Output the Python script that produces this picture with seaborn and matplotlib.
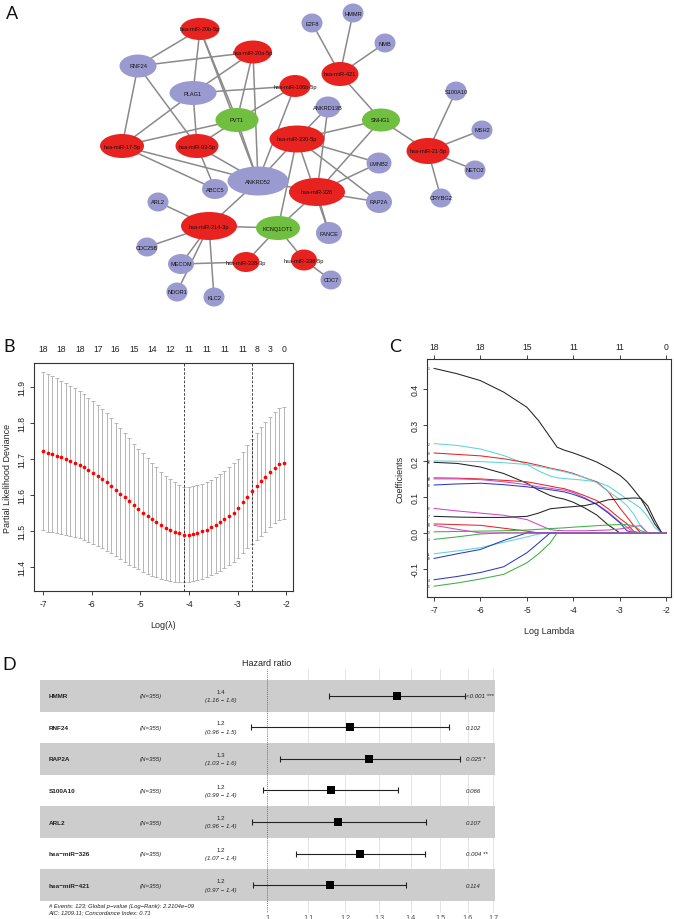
import matplotlib
matplotlib.use("Agg")
import matplotlib.pyplot as plt
import matplotlib.transforms as mtransforms
from matplotlib.collections import LineCollection
from matplotlib.patches import Ellipse
from matplotlib.ticker import NullLocator
import pandas as pd
import seaborn as sns

# ---------------- A: ceRNA network ----------------
mirna_nodes = ["hsa-miR-20b-5p", "hsa-miR-20a-5p", "hsa-miR-106b-5p", "hsa-miR-421",
               "hsa-miR-17-5p", "hsa-miR-93-5p", "hsa-miR-330-5p", "hsa-miR-326",
               "hsa-miR-214-3p", "hsa-miR-338-3p", "hsa-miR-338-5p", "hsa-miR-21-5p"]
lnc_nodes = ["PVT1", "SNHG1", "KCNQ1OT1"]
mrna_nodes = ["RNF24", "PLAG1", "ANKRD52", "E2F8", "HMMR", "NMB", "ANKRD13B", "ABCC5",
              "LMNB2", "RAP2A", "FANCE", "ARL2", "CDC25B", "MECOM", "NDOR1", "KLC2",
              "CDC7", "S100A10", "MSH2", "NETO2", "CRYBG2"]
edges = [
    ("hsa-miR-20b-5p", "RNF24"), ("hsa-miR-20b-5p", "PLAG1"), ("hsa-miR-20b-5p", "PVT1"),
    ("hsa-miR-20b-5p", "ANKRD52"),
    ("hsa-miR-20a-5p", "RNF24"), ("hsa-miR-20a-5p", "PLAG1"), ("hsa-miR-20a-5p", "PVT1"),
    ("hsa-miR-20a-5p", "ANKRD52"),
    ("hsa-miR-106b-5p", "PLAG1"), ("hsa-miR-106b-5p", "PVT1"), ("hsa-miR-106b-5p", "ANKRD52"),
    ("hsa-miR-17-5p", "RNF24"), ("hsa-miR-17-5p", "PLAG1"), ("hsa-miR-17-5p", "PVT1"),
    ("hsa-miR-17-5p", "ANKRD52"), ("hsa-miR-17-5p", "ABCC5"),
    ("hsa-miR-93-5p", "RNF24"), ("hsa-miR-93-5p", "PLAG1"), ("hsa-miR-93-5p", "PVT1"),
    ("hsa-miR-93-5p", "ANKRD52"), ("hsa-miR-93-5p", "ABCC5"),
    ("PVT1", "ANKRD52"),
    ("hsa-miR-421", "E2F8"), ("hsa-miR-421", "HMMR"), ("hsa-miR-421", "NMB"),
    ("hsa-miR-421", "SNHG1"),
    ("hsa-miR-330-5p", "ANKRD52"), ("hsa-miR-330-5p", "SNHG1"), ("hsa-miR-330-5p", "ANKRD13B"),
    ("hsa-miR-330-5p", "LMNB2"), ("hsa-miR-330-5p", "RAP2A"), ("hsa-miR-330-5p", "FANCE"),
    ("hsa-miR-330-5p", "KCNQ1OT1"),
    ("hsa-miR-326", "ANKRD52"), ("hsa-miR-326", "LMNB2"), ("hsa-miR-326", "RAP2A"),
    ("hsa-miR-326", "FANCE"), ("hsa-miR-326", "KCNQ1OT1"), ("hsa-miR-326", "SNHG1"),
    ("hsa-miR-326", "ANKRD13B"),
    ("hsa-miR-21-5p", "SNHG1"), ("hsa-miR-21-5p", "S100A10"), ("hsa-miR-21-5p", "MSH2"),
    ("hsa-miR-21-5p", "NETO2"), ("hsa-miR-21-5p", "CRYBG2"),
    ("hsa-miR-214-3p", "ANKRD52"), ("hsa-miR-214-3p", "ARL2"), ("hsa-miR-214-3p", "CDC25B"),
    ("hsa-miR-214-3p", "MECOM"), ("hsa-miR-214-3p", "NDOR1"), ("hsa-miR-214-3p", "KLC2"),
    ("hsa-miR-214-3p", "KCNQ1OT1"),
    ("hsa-miR-338-3p", "MECOM"), ("hsa-miR-338-3p", "KCNQ1OT1"),
    ("hsa-miR-338-5p", "KCNQ1OT1"), ("hsa-miR-338-5p", "CDC7"),
]

# ---------------- B: cross-validation curve ----------------
log_lambda = [-7.00, -6.91, -6.81, -6.72, -6.63, -6.53, -6.44, -6.35, -6.25, -6.16,
              -6.07, -5.97, -5.88, -5.79, -5.69, -5.60, -5.51, -5.41, -5.32, -5.23,
              -5.13, -5.04, -4.95, -4.85, -4.76, -4.67, -4.57, -4.48, -4.39, -4.29,
              -4.20, -4.11, -4.01, -3.92, -3.83, -3.73, -3.64, -3.55, -3.45, -3.36,
              -3.27, -3.17, -3.08, -2.99, -2.89, -2.80, -2.71, -2.61, -2.52, -2.43,
              -2.33, -2.24, -2.15, -2.05]
cv_mean = [11.722, 11.717, 11.713, 11.709, 11.705, 11.700, 11.695, 11.690, 11.684, 11.677,
           11.670, 11.662, 11.654, 11.645, 11.636, 11.626, 11.615, 11.604, 11.593, 11.582,
           11.571, 11.561, 11.551, 11.541, 11.532, 11.524, 11.516, 11.509, 11.503, 11.497,
           11.493, 11.490, 11.490, 11.492, 11.495, 11.499, 11.504, 11.510, 11.517, 11.524,
           11.532, 11.541, 11.551, 11.563, 11.580, 11.595, 11.610, 11.624, 11.638, 11.651,
           11.664, 11.676, 11.686, 11.690]
cv_sd = [0.220, 0.219, 0.217, 0.215, 0.213, 0.211, 0.209, 0.207, 0.205, 0.203,
         0.200, 0.198, 0.196, 0.193, 0.191, 0.188, 0.185, 0.182, 0.179, 0.176,
         0.172, 0.168, 0.165, 0.161, 0.157, 0.153, 0.149, 0.145, 0.141, 0.138,
         0.135, 0.133, 0.132, 0.132, 0.132, 0.132, 0.133, 0.133, 0.134, 0.134,
         0.135, 0.136, 0.137, 0.138, 0.140, 0.143, 0.146, 0.149, 0.151, 0.153,
         0.154, 0.155, 0.156, 0.156]
lambda_min = -4.11
lambda_1se = -2.71
nz_lambda = [-7.00, -6.63, -6.25, -5.88, -5.51, -5.13, -4.76, -4.39, -4.01, -3.64,
             -3.27, -2.89, -2.61, -2.33, -2.05]
nz_count = [18, 18, 18, 17, 16, 15, 14, 12, 11, 11, 11, 11, 8, 3, 0]

# ---------------- C: coefficient paths ----------------
path_lambda = [-7.0, -6.5, -6.0, -5.5, -5.0, -4.75, -4.5, -4.35, -4.2, -4.0, -3.75,
               -3.5, -3.25, -3.0, -2.85, -2.7, -2.55, -2.4, -2.25, -2.1, -2.0]
coef_1 = [.457, .442, .423, .391, .349, .312, .266, .238, .230, .222, .210, .197, .180, .160,
          .143, .120, .095, .062, .025, 0, 0]
coef_2 = [.248, .243, .233, .215, .190, .172, .158, .153, .151, .149, .146, .142, .130, .108,
          .094, .082, .068, .045, .015, 0, 0]
coef_8 = [.222, .218, .214, .206, .195, .188, .180, .176, .172, .165, .153, .142, .115, .069,
          .045, .020, 0, 0, 0, 0, 0]
coef_12 = [.200, .199, .198, .195, .190, .185, .178, .174, .170, .163, .153, .140, .115, .093,
           .076, .052, .018, 0, 0, 0, 0]
coef_15 = [.196, .193, .183, .165, .138, .119, .104, .098, .094, .085, .069, .050, .022, 0,
           0, 0, 0, 0, 0, 0, 0]
coef_14 = [.153, .152, .150, .146, .142, .136, .130, .126, .123, .115, .103, .090, .067, .040,
           .026, .004, 0, 0, 0, 0, 0]
coef_16 = [.150, .150, .148, .142, .134, .128, .124, .121, .119, .112, .097, .080, .058, .030,
           .016, 0, 0, 0, 0, 0, 0]
coef_10 = [.133, .136, .138, .134, .128, .124, .120, .117, .114, .107, .095, .079, .055, .028,
           .006, 0, 0, 0, 0, 0, 0]
coef_6 = [.068, .061, .055, .049, .037, .023, .009, .007, .006, .006, .006, .007, .008, .011,
          .014, .018, .020, 0, 0, 0, 0]
coef_7 = [.046, .044, .043, .043, .046, .055, .067, .069, .071, .073, .076, .083, .092, .094,
          .096, .097, .096, .075, .035, 0, 0]
coef_17 = [.025, .023, .021, .013, .005, 0, 0, 0, 0, 0, 0, 0, 0, 0, 0, 0, 0, 0, 0, 0, 0]
coef_13 = [.003, .004, .005, .006, .008, .010, .012, .013, .014, .016, .018, .020, .022, .023,
           .023, .020, .006, 0, 0, 0, 0]
coef_3 = [-.018, -.011, -.003, 0, 0, 0, 0, 0, 0, 0, 0, 0, 0, 0, 0, 0, 0, 0, 0, 0, 0]
coef_11 = [-.058, -.050, -.041, -.026, -.011, -.003, 0, 0, 0, 0, 0, 0, 0, 0, 0, 0, 0, 0, 0, 0, 0]
coef_18 = [-.071, -.058, -.046, -.021, 0, 0, 0, 0, 0, 0, 0, 0, 0, 0, 0, 0, 0, 0, 0, 0, 0]
coef_4 = [-.130, -.121, -.110, -.094, -.055, -.028, 0, 0, 0, 0, 0, 0, 0, 0, 0, 0, 0, 0, 0, 0, 0]
coef_5 = [-.148, -.139, -.128, -.115, -.083, -.058, -.028, 0, 0, 0, 0, 0, 0, 0, 0, 0, 0, 0, 0, 0, 0]
coef_9 = [.021, .010, 0, 0, 0, 0, 0, 0, 0, 0, 0, 0, 0, 0, 0, 0, 0, 0, 0, 0, 0]
top_lambda = [-7, -6, -5, -4, -3, -2]
top_count = [18, 18, 15, 11, 11, 0]

# ---------------- D: multivariate Cox forest ----------------
genes = ["HMMR", "RNF24", "RAP2A", "S100A10", "ARL2", "hsa\u2212miR\u2212326", "hsa\u2212miR\u2212421"]
n_obs = [355, 355, 355, 355, 355, 355, 355]
hr = [1.354, 1.213, 1.27, 1.16, 1.18, 1.244, 1.157]
hr_low = [1.155, 0.963, 1.03, 0.989, 0.964, 1.07, 0.966]
hr_high = [1.59, 1.53, 1.57, 1.36, 1.45, 1.447, 1.386]
hr_text = ["1.4", "1.2", "1.3", "1.2", "1.2", "1.2", "1.2"]
ci_text = ["(1.16 \u2212 1.6)", "(0.96 \u2212 1.5)", "(1.03 \u2212 1.6)", "(0.99 \u2212 1.4)",
           "(0.96 \u2212 1.4)", "(1.07 \u2212 1.4)", "(0.97 \u2212 1.4)"]
p_text = ["<0.001 ***", "0.102", "0.025 *", "0.066", "0.107", "0.004 **", "0.114"]
hr_ticks = [1, 1.1, 1.2, 1.3, 1.4, 1.5, 1.6, 1.7]
footnote = ["# Events: 123; Global p\u2212value (Log\u2212Rank): 2.2104e\u221209",
            "AIC: 1209.11; Concordance Index: 0.71"]

# ---------------- layout (pixels) ----------------
node_layout = {
    "hsa-miR-20b-5p": (200, 30, 39, 22), "hsa-miR-20a-5p": (253, 53, 38, 23),
    "hsa-miR-106b-5p": (295, 87, 31, 22), "hsa-miR-421": (340, 75, 37, 24),
    "hsa-miR-17-5p": (122, 147, 44, 24), "hsa-miR-93-5p": (197, 147, 43, 24),
    "hsa-miR-330-5p": (297, 140, 55, 27), "hsa-miR-326": (317, 193, 56, 28),
    "hsa-miR-214-3p": (209, 227, 56, 28), "hsa-miR-338-3p": (246, 263, 27, 20),
    "hsa-miR-338-5p": (304, 261, 26, 21), "hsa-miR-21-5p": (428, 152, 43, 26),
    "PVT1": (237, 121, 43, 24), "SNHG1": (381, 121, 38, 23), "KCNQ1OT1": (278, 229, 44, 24),
    "RNF24": (138, 67, 37, 23), "PLAG1": (193, 94, 47, 24), "ANKRD52": (258, 182, 61, 29),
    "E2F8": (312, 24, 21, 19), "HMMR": (353, 14, 21, 19), "NMB": (385, 44, 21, 19),
    "ANKRD13B": (328, 108, 25, 21), "ABCC5": (215, 190, 26, 20), "LMNB2": (379, 164, 25, 21),
    "RAP2A": (379, 203, 26, 22), "FANCE": (329, 234, 26, 22), "ARL2": (158, 203, 21, 19),
    "CDC25B": (147, 248, 21, 19), "MECOM": (181, 265, 26, 20), "NDOR1": (177, 293, 21, 19),
    "KLC2": (214, 298, 21, 19), "CDC7": (331, 281, 21, 19), "S100A10": (456, 92, 21, 19),
    "MSH2": (482, 131, 21, 19), "NETO2": (475, 171, 21, 19), "CRYBG2": (441, 199, 21, 19),
}
W, H = 674, 920

sns.set_style("white")
plt.rcParams["font.family"] = ["Liberation Sans", "DejaVu Sans"]
plt.rcParams["axes.unicode_minus"] = False

fig = plt.figure(figsize=(W / 100, H / 100), dpi=100)


def box(left, top, right, bottom):
    return fig.add_axes([left / W, 1 - bottom / H, (right - left) / W, (bottom - top) / H])


def r_style(ax):
    for s in ax.spines.values():
        s.set_visible(True)
        s.set_color("#333333")
        s.set_linewidth(0.8)
    ax.tick_params(axis="both", direction="out", length=3, width=0.6, pad=2.5,
                   labelsize=6.2, colors="#222222", bottom=True, left=True)
    ax.tick_params(axis="y", labelrotation=90)
    for lab in ax.get_yticklabels():
        lab.set_va("center")


# ---------- A ----------
ax_a = box(0, 0, W, 320)
ax_a.set_xlim(0, W)
ax_a.set_ylim(320, 0)
ax_a.axis("off")
segs = [[node_layout[a][:2], node_layout[b][:2]] for a, b in edges]
ax_a.add_collection(LineCollection(segs, colors="#8a8a8a", linewidths=1.1, zorder=1))
node_color = {}
node_color.update({n: "#e8231f" for n in mirna_nodes})
node_color.update({n: "#70bf41" for n in lnc_nodes})
node_color.update({n: "#9a9ad0" for n in mrna_nodes})
for name, col in node_color.items():
    x, y, w, h = node_layout[name]
    ax_a.add_patch(Ellipse((x, y), w, h, facecolor=col, edgecolor="none", zorder=2))
    ax_a.text(x, y, name, ha="center", va="center", fontsize=4.1, color="#111111", zorder=3)

# ---------- B ----------
ax_b = box(34, 364, 293, 592)
ax_b.errorbar(log_lambda, cv_mean, yerr=cv_sd, fmt="none", ecolor="#b5b5b5",
              elinewidth=0.7, capsize=1.6, capthick=0.7, zorder=1)
sns.scatterplot(x=log_lambda, y=cv_mean, ax=ax_b, color="red", s=7, linewidth=0, zorder=3)
for v in (lambda_min, lambda_1se):
    ax_b.axvline(v, color="#222222", lw=0.6, ls=(0, (3, 2)), zorder=2)
ax_b.set_xlim(-7.19, -1.86)
ax_b.set_ylim(11.333, 11.967)
ax_b.set_xticks([-7, -6, -5, -4, -3, -2])
ax_b.set_yticks([11.4, 11.5, 11.6, 11.7, 11.8, 11.9])
r_style(ax_b)
ax_b.set_xlabel("Log(\u03bb)", fontsize=6.5, labelpad=9)
ax_b.set_ylabel("Partial Likelihood Deviance", fontsize=6.5, labelpad=4)
sec_b = ax_b.secondary_xaxis("top")
sec_b.set_xticks(nz_lambda, labels=[str(c) for c in nz_count])
sec_b.tick_params(length=0, pad=7, labelsize=6.2, colors="#222222")
sec_b.spines["top"].set_visible(False)

# ---------- C ----------
ax_c = box(427, 360, 671, 598)
path_vars = {
    "1": coef_1, "2": coef_2, "8": coef_8, "12": coef_12, "15": coef_15, "14": coef_14,
    "16": coef_16, "10": coef_10, "6": coef_6, "7": coef_7, "17": coef_17, "13": coef_13,
    "3": coef_3, "11": coef_11, "18": coef_18, "4": coef_4, "5": coef_5, "9": coef_9,
}
path_colors = {
    "1": "#222222", "2": "#5fd3da", "8": "#ee2222", "12": "#5fd3da", "15": "#222222",
    "14": "#ee2222", "16": "#c94ac9", "10": "#2b3bc4", "6": "#c94ac9", "7": "#222222",
    "17": "#ee2222", "13": "#3cb043", "3": "#3cb043", "11": "#5fd3da", "18": "#2b3bc4",
    "4": "#2b3bc4", "5": "#3cb043", "9": "#c94ac9",
}
df_paths = pd.concat(
    [pd.DataFrame({"log_lambda": path_lambda, "coef": vals, "var": k})
     for k, vals in path_vars.items()], ignore_index=True)
sns.lineplot(data=df_paths, x="log_lambda", y="coef", hue="var", hue_order=list(path_vars),
             palette=path_colors, estimator=None, sort=False, lw=0.75, legend=False, ax=ax_c)
for k, vals in path_vars.items():
    ax_c.text(-7.11, vals[0], k, fontsize=2.4, ha="center", va="center", color="#333333")
ax_c.set_xlim(-7.15, -1.9)
ax_c.set_ylim(-0.178, 0.483)
ax_c.set_xticks([-7, -6, -5, -4, -3, -2])
ax_c.set_yticks([-0.1, 0.0, 0.1, 0.2, 0.3, 0.4], labels=["-0.1", "0.0", "0.1", "0.2", "0.3", "0.4"])
r_style(ax_c)
ax_c.set_xlabel("Log Lambda", fontsize=6.5, labelpad=9)
ax_c.set_ylabel("Coefficients", fontsize=6.5, labelpad=4)
sec_c = ax_c.secondary_xaxis("top")
sec_c.set_xticks(top_lambda, labels=[str(c) for c in top_count])
sec_c.tick_params(direction="out", length=3, width=0.6, pad=3, labelsize=6.2, colors="#222222")
sec_c.spines["top"].set_visible(False)

# ---------- D ----------
ax_d = box(39.5, 670, 495, 914)
ax_d.set_xscale("log")
ax_d.set_xlim(0.5857, 1.706)
rows = list(range(len(genes)))
ax_d.set_ylim(6.88, -0.848)
for t in hr_ticks[1:]:
    ax_d.axvline(t, color="#d9d9d9", lw=0.5, zorder=0.2)
for i in rows:
    if i % 2 == 0:
        ax_d.axhspan(i - 0.5, i + 0.5, color="#cdcdcd", lw=0, zorder=0.5)
ax_d.axvline(1, color="#555555", lw=0.6, ls=(0, (1, 1.3)), zorder=1)
hr_err = [[h - lo for h, lo in zip(hr, hr_low)], [hi - h for h, hi in zip(hr, hr_high)]]
ax_d.errorbar(hr, rows, xerr=hr_err, fmt="none", ecolor="#222222", elinewidth=0.8,
              capsize=2.2, capthick=0.8, zorder=2)
sns.scatterplot(x=hr, y=rows, ax=ax_d, marker="s", color="black", s=30, linewidth=0, zorder=3)
ax_d.set_xticks(hr_ticks, labels=[str(t) for t in hr_ticks])
ax_d.xaxis.set_minor_locator(NullLocator())
ax_d.set_yticks([])
ax_d.tick_params(axis="x", length=0, pad=0.5, labelsize=5.2, colors="#4d4d4d")
for s in ax_d.spines.values():
    s.set_visible(False)
ax_d.set_xlabel("")
ax_d.set_ylabel("")
tr = mtransforms.blended_transform_factory(ax_d.transAxes, ax_d.transData)
for i, g in enumerate(genes):
    ax_d.text(0.0198, i, g, transform=tr, fontsize=4.6, fontweight="bold", va="center",
              color="#222222")
    ax_d.text(0.2206, i, f"(N={n_obs[i]})", transform=tr, fontsize=4.4, style="italic",
              va="center", color="#222222")
    ax_d.text(0.3985, i - 0.14, hr_text[i], transform=tr, fontsize=4.4, ha="center",
              va="center", color="#222222")
    ax_d.text(0.3985, i + 0.12, ci_text[i], transform=tr, fontsize=4.4, style="italic",
              ha="center", va="center", color="#222222")
    ax_d.text(0.936, i, p_text[i], transform=tr, fontsize=4.4, style="italic", va="center",
              color="#222222")
ax_d.text(0.0198, 6.63, footnote[0], transform=tr, fontsize=4.2, style="italic",
          va="center", color="#222222")
ax_d.text(0.0198, 6.85, footnote[1], transform=tr, fontsize=4.2, style="italic",
          va="center", color="#222222")
fig.text(267 / W, 1 - 663 / H, "Hazard ratio", ha="center", va="center", fontsize=6.5,
         color="#222222")

# ---------- panel letters ----------
for lab, (px, py) in {"A": (12, 14), "B": (9, 347), "C": (395, 347), "D": (9, 665)}.items():
    fig.text(px / W, 1 - py / H, lab, fontsize=13, ha="center", va="center",
             family=["Lato", "DejaVu Sans"], color="#111111")

fig.savefig("out.png", dpi=100)
